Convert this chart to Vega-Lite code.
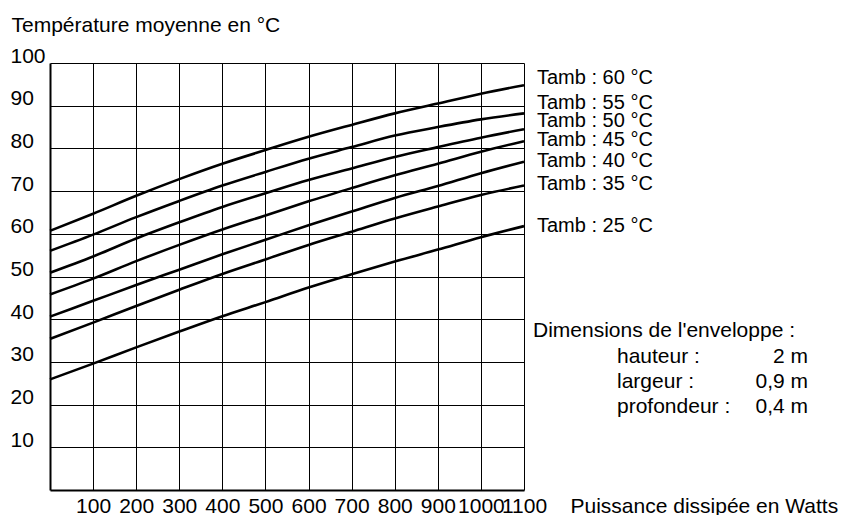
{
  "$schema": "https://vega.github.io/schema/vega-lite/v6.json",
  "width": 474,
  "height": 427,
  "autosize": {"type": "none"},
  "padding": {"left": 50, "top": 63, "right": 318, "bottom": 25},
  "background": "white",
  "config": {
    "view": {"stroke": null},
    "font": "Liberation Sans",
    "axis": {
      "grid": true,
      "gridColor": "#000000",
      "gridWidth": 1,
      "gridOpacity": 1,
      "domainColor": "#000000",
      "domainWidth": 2,
      "ticks": false,
      "tickSize": 0,
      "labelFont": "Liberation Sans",
      "labelFontSize": 21,
      "labelColor": "#000000",
      "titleFont": "Liberation Sans",
      "titleFontSize": 21,
      "titleFontWeight": "normal",
      "titleColor": "#000000",
      "labelOverlap": false,
      "labelBound": false,
      "labelFlush": false
    }
  },
  "datasets": {
    "curves": [
      {"s": "60", "x": 0, "y": 60.7}, {"s": "60", "x": 100, "y": 64.7}, {"s": "60", "x": 200, "y": 68.9}, {"s": "60", "x": 300, "y": 72.8}, {"s": "60", "x": 400, "y": 76.4}, {"s": "60", "x": 500, "y": 79.6}, {"s": "60", "x": 600, "y": 82.7}, {"s": "60", "x": 700, "y": 85.5}, {"s": "60", "x": 800, "y": 88.2}, {"s": "60", "x": 900, "y": 90.5}, {"s": "60", "x": 1000, "y": 92.8}, {"s": "60", "x": 1100, "y": 94.8},
      {"s": "55", "x": 0, "y": 56.0}, {"s": "55", "x": 100, "y": 59.8}, {"s": "55", "x": 200, "y": 63.9}, {"s": "55", "x": 300, "y": 67.7}, {"s": "55", "x": 400, "y": 71.3}, {"s": "55", "x": 500, "y": 74.5}, {"s": "55", "x": 600, "y": 77.6}, {"s": "55", "x": 700, "y": 80.3}, {"s": "55", "x": 800, "y": 83.0}, {"s": "55", "x": 900, "y": 85.0}, {"s": "55", "x": 1000, "y": 86.8}, {"s": "55", "x": 1100, "y": 88.2},
      {"s": "50", "x": 0, "y": 50.9}, {"s": "50", "x": 100, "y": 54.7}, {"s": "50", "x": 200, "y": 58.9}, {"s": "50", "x": 300, "y": 62.7}, {"s": "50", "x": 400, "y": 66.3}, {"s": "50", "x": 500, "y": 69.5}, {"s": "50", "x": 600, "y": 72.6}, {"s": "50", "x": 700, "y": 75.3}, {"s": "50", "x": 800, "y": 78.0}, {"s": "50", "x": 900, "y": 80.3}, {"s": "50", "x": 1000, "y": 82.5}, {"s": "50", "x": 1100, "y": 84.5},
      {"s": "45", "x": 0, "y": 45.8}, {"s": "45", "x": 100, "y": 49.5}, {"s": "45", "x": 200, "y": 53.6}, {"s": "45", "x": 300, "y": 57.4}, {"s": "45", "x": 400, "y": 61.0}, {"s": "45", "x": 500, "y": 64.3}, {"s": "45", "x": 600, "y": 67.6}, {"s": "45", "x": 700, "y": 70.7}, {"s": "45", "x": 800, "y": 73.7}, {"s": "45", "x": 900, "y": 76.4}, {"s": "45", "x": 1000, "y": 79.2}, {"s": "45", "x": 1100, "y": 81.7},
      {"s": "40", "x": 0, "y": 40.6}, {"s": "40", "x": 100, "y": 44.3}, {"s": "40", "x": 200, "y": 48.0}, {"s": "40", "x": 300, "y": 51.6}, {"s": "40", "x": 400, "y": 55.2}, {"s": "40", "x": 500, "y": 58.6}, {"s": "40", "x": 600, "y": 62.0}, {"s": "40", "x": 700, "y": 65.2}, {"s": "40", "x": 800, "y": 68.4}, {"s": "40", "x": 900, "y": 71.2}, {"s": "40", "x": 1000, "y": 74.2}, {"s": "40", "x": 1100, "y": 76.9},
      {"s": "35", "x": 0, "y": 35.4}, {"s": "35", "x": 100, "y": 39.2}, {"s": "35", "x": 200, "y": 43.1}, {"s": "35", "x": 300, "y": 46.9}, {"s": "35", "x": 400, "y": 50.6}, {"s": "35", "x": 500, "y": 54.0}, {"s": "35", "x": 600, "y": 57.4}, {"s": "35", "x": 700, "y": 60.5}, {"s": "35", "x": 800, "y": 63.6}, {"s": "35", "x": 900, "y": 66.4}, {"s": "35", "x": 1000, "y": 69.1}, {"s": "35", "x": 1100, "y": 71.3},
      {"s": "25", "x": 0, "y": 25.9}, {"s": "25", "x": 100, "y": 29.6}, {"s": "25", "x": 200, "y": 33.4}, {"s": "25", "x": 300, "y": 37.1}, {"s": "25", "x": 400, "y": 40.7}, {"s": "25", "x": 500, "y": 44.0}, {"s": "25", "x": 600, "y": 47.4}, {"s": "25", "x": 700, "y": 50.5}, {"s": "25", "x": 800, "y": 53.5}, {"s": "25", "x": 900, "y": 56.3}, {"s": "25", "x": 1000, "y": 59.2}, {"s": "25", "x": 1100, "y": 61.8}
    ],
    "tamb": [
      {"label": "Tamb : 60 °C", "y": 96.5},
      {"label": "Tamb : 55 °C", "y": 90.6},
      {"label": "Tamb : 50 °C", "y": 86.3},
      {"label": "Tamb : 45 °C", "y": 82.0},
      {"label": "Tamb : 40 °C", "y": 77.0},
      {"label": "Tamb : 35 °C", "y": 71.7},
      {"label": "Tamb : 25 °C", "y": 61.8}
    ],
    "dimhead": [
      {"label": "Dimensions de l'enveloppe :", "y": 37.2}
    ],
    "dims": [
      {"name": "hauteur :", "value": "2 m", "y": 31.1},
      {"name": "largeur :", "value": "0,9 m", "y": 25.3},
      {"name": "profondeur :", "value": "0,4 m", "y": 19.4}
    ]
  },
  "layer": [
    {
      "data": {"name": "curves"},
      "mark": {"type": "line", "color": "#000000", "strokeWidth": 2.6, "interpolate": "monotone", "clip": false},
      "encoding": {
        "x": {
          "field": "x", "type": "quantitative",
          "scale": {"domain": [0, 1100], "nice": false, "zero": false},
          "axis": {
            "values": [100, 200, 300, 400, 500, 600, 700, 800, 900, 1000, 1100],
            "format": "d",
            "labelAlign": "center",
            "labelBaseline": "alphabetic",
            "labelPadding": 22,
            "title": "Puissance dissipée en Watts",
            "titleAnchor": "start",
            "titleAlign": "left",
            "titleBaseline": "alphabetic",
            "titleX": 520,
            "titleY": 22
          }
        },
        "y": {
          "field": "y", "type": "quantitative",
          "scale": {"domain": [0, 100], "nice": false, "zero": true},
          "axis": {
            "values": [10, 20, 30, 40, 50, 60, 70, 80, 90, 100],
            "format": "d",
            "labelAlign": "left",
            "labelBaseline": "alphabetic",
            "labelPadding": 40,
            "labelOffset": -1,
            "title": "Température moyenne en °C",
            "titleAngle": 0,
            "titleAnchor": "start",
            "titleAlign": "left",
            "titleBaseline": "alphabetic",
            "titleX": -39,
            "titleY": -32
          }
        },
        "detail": {"field": "s", "type": "nominal"}
      }
    },
    {
      "data": {"name": "tamb"},
      "mark": {"type": "text", "align": "left", "baseline": "middle", "dx": 13, "fontSize": 20, "font": "Liberation Sans", "color": "#000000", "clip": false},
      "encoding": {
        "x": {"datum": 1100, "type": "quantitative"},
        "y": {"field": "y", "type": "quantitative"},
        "text": {"field": "label"}
      }
    },
    {
      "data": {"name": "dimhead"},
      "mark": {"type": "text", "align": "left", "baseline": "middle", "dx": 9, "fontSize": 21, "font": "Liberation Sans", "color": "#000000", "clip": false},
      "encoding": {
        "x": {"datum": 1100, "type": "quantitative"},
        "y": {"field": "y", "type": "quantitative"},
        "text": {"field": "label"}
      }
    },
    {
      "data": {"name": "dims"},
      "mark": {"type": "text", "align": "left", "baseline": "middle", "dx": 93, "fontSize": 21, "font": "Liberation Sans", "color": "#000000", "clip": false},
      "encoding": {
        "x": {"datum": 1100, "type": "quantitative"},
        "y": {"field": "y", "type": "quantitative"},
        "text": {"field": "name"}
      }
    },
    {
      "data": {"name": "dims"},
      "mark": {"type": "text", "align": "right", "baseline": "middle", "dx": 284, "fontSize": 21, "font": "Liberation Sans", "color": "#000000", "clip": false},
      "encoding": {
        "x": {"datum": 1100, "type": "quantitative"},
        "y": {"field": "y", "type": "quantitative"},
        "text": {"field": "value"}
      }
    }
  ]
}
